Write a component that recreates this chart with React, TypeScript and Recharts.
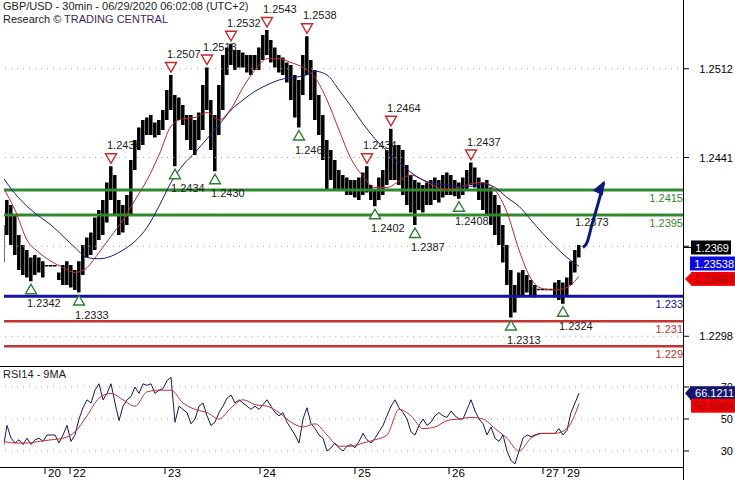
import React from "react";
import { Bar, ComposedChart, Line, ReferenceDot, ReferenceLine, XAxis, YAxis } from "recharts";

// one point per hour (two 30min bars), oldest first
const barHigh = [
    1.2387, 1.2407, 1.2403, 1.2395, 1.2379, 1.2371, 1.2367, 1.2361, 1.2363, 1.2361,
    1.2358, 1.2355, 1.2355, 1.2355, 1.2349, 1.2355, 1.2358, 1.2355, 1.2351, 1.2358,
    1.2371, 1.2377, 1.2381, 1.2393, 1.2399, 1.2407, 1.2421, 1.2434, 1.2427, 1.2407,
    1.2403, 1.2411, 1.2439, 1.2455, 1.2465, 1.2471, 1.2473, 1.2475, 1.2469, 1.2471,
    1.2479, 1.2495, 1.2507, 1.2491, 1.2489, 1.2483, 1.2475, 1.2475, 1.2471, 1.2477,
    1.2499, 1.2513, 1.2487, 1.2475, 1.2499, 1.2523, 1.2529, 1.2532, 1.2527, 1.2527,
    1.2525, 1.2523, 1.2523, 1.2523, 1.2529, 1.2539, 1.2543, 1.2535, 1.2529, 1.2523,
    1.2521, 1.2517, 1.2515, 1.2507, 1.2503, 1.2523, 1.2538, 1.2519, 1.2511, 1.2491,
    1.2475, 1.2455, 1.2447, 1.2439, 1.2431, 1.2427, 1.2425, 1.2423, 1.2423, 1.2425,
    1.2429, 1.2434, 1.2419, 1.2415, 1.2425, 1.2431, 1.2447, 1.2464, 1.2451, 1.2451,
    1.2447, 1.2435, 1.2427, 1.2423, 1.2421, 1.2419, 1.2421, 1.2423, 1.2425, 1.2423,
    1.2427, 1.2429, 1.2427, 1.2423, 1.2421, 1.2425, 1.2431, 1.2437, 1.2433, 1.2425,
    1.2421, 1.2423, 1.2417, 1.2411, 1.2403, 1.2387, 1.2371, 1.2351, 1.2339, 1.2349,
    1.2351, 1.2347, 1.2343, 1.2339, 1.2336, 1.2336, 1.2336, 1.2336, 1.2341, 1.2343,
    1.2341, 1.2345, 1.2358, 1.2367, 1.2371,
];
const barLow = [
    1.2357, 1.2379, 1.2371, 1.2363, 1.2351, 1.2347, 1.2345, 1.2342, 1.2347, 1.2349,
    1.2345, 1.2354, 1.2354, 1.2354, 1.2343, 1.2339, 1.2339, 1.2337, 1.2335, 1.2333,
    1.2347, 1.2361, 1.2363, 1.2367, 1.2375, 1.2379, 1.2389, 1.2407, 1.2395, 1.2379,
    1.2381, 1.2387, 1.2395, 1.2431, 1.2447, 1.2451, 1.2459, 1.2459, 1.2457, 1.2459,
    1.2463, 1.2471, 1.2479, 1.2434, 1.2471, 1.2467, 1.2455, 1.2447, 1.2443, 1.2455,
    1.2463, 1.2479, 1.2447, 1.243, 1.2459, 1.2479, 1.2507, 1.2515, 1.2511, 1.2513,
    1.2513, 1.2509, 1.2507, 1.2511, 1.2511, 1.2519, 1.2523, 1.2517, 1.2513, 1.2509,
    1.2507, 1.2501, 1.2487, 1.2473, 1.2465, 1.2491, 1.2507, 1.2487, 1.2471, 1.2459,
    1.2439, 1.2415, 1.2423, 1.2415, 1.2415, 1.2415, 1.2411, 1.2411, 1.2409, 1.2407,
    1.2411, 1.2413, 1.2407, 1.2402, 1.2407, 1.2411, 1.2419, 1.2423, 1.2423, 1.2419,
    1.2411, 1.2403, 1.2397, 1.2387, 1.2399, 1.2397, 1.2403, 1.2403, 1.2407, 1.2405,
    1.2409, 1.2411, 1.2411, 1.241, 1.2408, 1.2411, 1.2415, 1.2419, 1.2417, 1.2407,
    1.2399, 1.2395, 1.2387, 1.2379, 1.2371, 1.2357, 1.2339, 1.2313, 1.2317, 1.2329,
    1.2331, 1.2333, 1.2331, 1.2329, 1.2335, 1.2335, 1.2335, 1.2335, 1.2329, 1.2327,
    1.2324, 1.2331, 1.2339, 1.2349, 1.2361,
];
// moving averages, read every 3rd point
const maRed = [
    1.2417, 1.2399, 1.2375, 1.2365, 1.2358, 1.2353, 1.2349, 1.2353, 1.2365, 1.2378,
    1.2391, 1.2407, 1.2423, 1.2443, 1.2466, 1.2472, 1.2473, 1.2477, 1.2471, 1.248,
    1.2497, 1.2511, 1.252, 1.252, 1.2517, 1.2513, 1.2505, 1.2487, 1.2463, 1.244,
    1.2426, 1.2417, 1.2417, 1.2422, 1.2427, 1.2423, 1.2418, 1.2415, 1.2417, 1.242,
    1.2421, 1.2415, 1.2397, 1.2367, 1.2344, 1.2336, 1.2335, 1.2337, 1.2346,
];
const maBlue = [
    1.2425, 1.2412, 1.2402, 1.2394, 1.2387, 1.2378, 1.2369, 1.2361, 1.236, 1.2362,
    1.2367, 1.2374, 1.2385, 1.2402, 1.2421, 1.2435, 1.2445, 1.2456, 1.2467, 1.2479,
    1.2487, 1.2494, 1.2499, 1.2503, 1.2505, 1.2506, 1.251, 1.2507, 1.2495, 1.2482,
    1.2468, 1.2456, 1.2446, 1.2437, 1.2429, 1.2423, 1.242, 1.2419, 1.2418, 1.2418,
    1.242, 1.2417, 1.2409, 1.2402, 1.2391, 1.238, 1.237, 1.2361, 1.2354,
];
const rsi14 = [
    31, 46, 38, 35, 37, 34, 38, 34, 37, 38,
    36, 40, 40, 40, 35, 40, 46, 36, 40, 50,
    57, 62, 60, 68, 72, 62, 66, 72, 60, 49,
    58, 62, 64, 70, 66, 72, 71, 72, 66, 68,
    69, 74, 76, 48, 58, 56, 54, 47, 50, 58,
    60, 52, 46, 48, 54, 58, 63, 65, 60, 62,
    60, 58, 56, 58, 56, 59, 62, 58, 54, 52,
    54, 48, 44, 40, 35, 50, 57, 47, 44, 40,
    38, 30, 32, 35, 32, 30, 33, 34, 32, 36,
    41, 37, 35, 38, 42, 46, 52, 58, 62, 57,
    54, 50, 42, 40, 46, 50, 46, 48, 52, 54,
    52, 51, 55, 52, 50, 50, 56, 62, 55, 50,
    47, 40, 45, 38, 36, 40, 30, 24, 22, 30,
    38, 40, 39, 40, 41, 41, 41, 41, 41, 44,
    40, 43, 54, 60, 66.12,
];
const rsiMa = [
    36, 35, 35, 36, 37, 38, 42, 52, 63, 66,
    62, 58, 67, 68, 68, 60, 56, 54, 50, 57,
    62, 59, 58, 54, 48, 45, 47, 40, 33, 33,
    35, 37, 40, 56, 52, 44, 45, 49, 50, 51,
    50, 44, 38, 30, 38, 41, 41, 44, 59.56,
];

const dayTickPos = [10.5, 16.75, 40.5, 64.25, 88, 111.5, 135, 140.25];
const dayLabels = ["20", "22", "23", "24", "25", "26", "27", "29"];

const priceTicks = [1.2298, 1.237, 1.2441, 1.2512];
const levelPrices = [1.2415, 1.2395, 1.233, 1.231, 1.229];
const levelNames = ["1.2415", "1.2395", "1.233", "1.231", "1.229"];
const levelKinds = ["res", "res", "piv", "sup", "sup"];

// turning points marked on the chart
const pivotIdx = [27, 42, 51, 57, 66, 76, 91, 97, 117, 7, 19, 43, 53, 74, 93, 103, 114, 127, 140];
const pivotPrice = [
    1.2434, 1.2507, 1.2513, 1.2532, 1.2543, 1.2538, 1.2434, 1.2464, 1.2437,
    1.2342, 1.2333, 1.2434, 1.243, 1.2465, 1.2402, 1.2387, 1.2408, 1.2313, 1.2324,
];
const pivotIsHigh = [true, true, true, true, true, true, true, true, true,
    false, false, false, false, false, false, false, false, false, false];

const targetIdx = 144;
const targetPrice = 1.2373;
const arrowIdx = [145, 146, 147.2, 148.4, 150.2];
const arrowPrice = [1.2369, 1.2373, 1.2387, 1.24, 1.2421];

const lastClose = 1.2369;
const lastBlue = 1.23538;
const lastRed = 1.23463;
const lastRsi = 66.1211;
const lastRsiMa = 59.5604;

const FONT = '"Liberation Sans", Arial, sans-serif';
const X_DOMAIN: [number, number] = [0.25, 170.25];
const GREEN = "#2f8a2f";
const BLUE = "#1414a0";
const RED = "#c43232";
const levelColor: Record<string, string> = { res: GREEN, piv: BLUE, sup: RED };

const priceData = barHigh.map((h, i) => ({
    i,
    range: [barLow[i], h],
    red: i % 3 === 0 ? maRed[i / 3] : null,
    blue: i % 3 === 0 ? maBlue[i / 3] : null,
}));
const rsiData = rsi14.map((v, i) => ({ i, rsi: v, ma: i % 3 === 0 ? rsiMa[i / 3] : null }));
const arrowData = arrowIdx.map((i, k) => ({ i, p: arrowPrice[k] }));

function Pivot({ cx, cy, high, text, noMark }: any) {
    const ty = high ? cy - 8 : cy + 8;
    const pts = high
        ? `${cx - 5.5},${ty - 4.5} ${cx + 5.5},${ty - 4.5} ${cx},${ty + 5}`
        : `${cx},${ty - 5} ${cx + 5.5},${ty + 4.5} ${cx - 5.5},${ty + 4.5}`;
    return (
        <g>
            {!noMark && <polygon points={pts} fill="#fff" stroke={high ? "#c62828" : "#2e7d32"} strokeWidth={1.4} />}
            <text x={cx - 4} y={high ? cy - 17 : cy + 26} fontSize={11} fontFamily={FONT} fill="#1a1a1a">
                {text}
            </text>
        </g>
    );
}

// hi-lo bar drawn a touch narrower than the step so some texture stays visible
function HiLoBar(props: any) {
    const { x, y, width, height } = props;
    const cx = x + width / 2;
    const h = Math.max(Math.abs(height), 1.5);
    const top = height < 0 ? y + height : y;
    return <rect x={cx - 1.75} y={top} width={3.5} height={h} fill="#000" />;
}

function ValueBox({ x, y, bg, fg, text, arrow, w }: any) {
    const left = x + 51 - w;
    return (
        <g>
            {arrow && <polygon points={`${x + 1},${y} ${left + 1},${y - 7} ${left + 1},${y + 7}`} fill={bg} />}
            <rect x={left} y={y - 7} width={w} height={14} fill={bg} />
            <text x={x + 50} y={y + 4} textAnchor="end" fontSize={11} fontFamily={FONT} fill={fg}>{text}</text>
        </g>
    );
}

function PriceTick(props: any) {
    const { x, y, payload } = props;
    const v = payload.value;
    if (v === lastClose)
        return (
            <g>
                <line x1={x} x2={x + 7} y1={y} y2={y} stroke="#000" />
                <rect x={x + 7} y={y - 7} width={40} height={14} fill="#000" />
                <text x={x + 45} y={y + 4} textAnchor="end" fontSize={11} fontFamily={FONT} fill="#fff">{v.toFixed(4)}</text>
            </g>
        );
    if (v === lastBlue) return <ValueBox x={x} y={y - 3} bg="#0c0ce0" fg="#fff" text={v.toFixed(5)} w={45} />;
    if (v === lastRed) return <ValueBox x={x} y={y + 3} bg="#f00000" fg="#9a0000" text={v.toFixed(5)} w={44} arrow />;
    // the grid tick sitting under the last-price box keeps its mark only
    const hidden = Math.abs(v - lastClose) < 0.0003;
    return (
        <g>
            <line x1={x} x2={x + 5} y1={y} y2={y} stroke="#000" />
            {!hidden && (
                <text x={x + 49} y={y + 4} textAnchor="end" fontSize={11} fontFamily={FONT} fill="#000">{v.toFixed(4)}</text>
            )}
        </g>
    );
}

function RsiTick(props: any) {
    const { x, y, payload } = props;
    const v = payload.value;
    if (v === lastRsi) return <ValueBox x={x} y={y} bg="#15156e" fg="#fff" text={v.toFixed(4)} w={45} arrow />;
    if (v === lastRsiMa) return <ValueBox x={x} y={y + 2} bg="#f00000" fg="#9a0000" text={v.toFixed(4)} w={44} />;
    return (
        <g>
            <line x1={x} x2={x + 5} y1={y} y2={y} stroke="#000" />
            <text x={x + 49} y={y + 4} textAnchor="end" fontSize={11} fontFamily={FONT} fill="#000">{v}</text>
        </g>
    );
}

function DayTick(props: any) {
    const { x, y, payload } = props;
    const k = dayTickPos.indexOf(payload.value);
    return (
        <g>
            <line x1={x} x2={x} y1={y} y2={y + 7} stroke="#000" />
            <text x={x + 3} y={y + 10} fontSize={11.5} fontFamily={FONT} fill="#000">{dayLabels[k]}</text>
        </g>
    );
}

function ArrowHead(props: any) {
    const { cx, cy, index } = props;
    if (index !== arrowData.length - 1) return <g key={index} />;
    return (
        <polygon
            key={index}
            points={`${cx + 1},${cy - 2} ${cx - 11},${cy + 8} ${cx - 1},${cy + 13}`}
            fill="#0d1a78"
        />
    );
}

export default function App() {
    return (
        <div style={{ position: "absolute", left: 0, top: 0, width: 735, height: 480, background: "#fff", fontFamily: FONT, overflow: "hidden" }}>
            <ComposedChart
                width={735}
                height={366}
                data={priceData}
                margin={{ top: 0, right: 0, bottom: 0, left: 4 }}
                barGap={0}
                barCategoryGap={0}
            >
                <XAxis type="number" dataKey="i" domain={X_DOMAIN} allowDataOverflow hide />
                <YAxis
                    type="number"
                    orientation="right"
                    width={51}
                    domain={[1.22742, 1.2567]}
                    allowDataOverflow
                    ticks={[...priceTicks, lastClose, lastBlue, lastRed]}
                    interval={0}
                    tickSize={0}
                    tickMargin={0}
                    tickLine={false}
                    axisLine={false}
                    tick={<PriceTick />}
                />
                {priceTicks.map((p) => (
                    <ReferenceLine key={p} y={p} stroke="#a8a8a8" strokeDasharray="1 5" />
                ))}
                {levelPrices.map((p, k) => (
                    <ReferenceLine key={"l" + p} y={p} stroke={levelColor[levelKinds[k]]} strokeWidth={levelKinds[k] === "sup" ? 2.5 : 3} />
                ))}
                {levelPrices.map((p, k) => (
                    <ReferenceDot
                        key={"t" + p}
                        x={X_DOMAIN[1]}
                        y={p}
                        r={0}
                        shape={(s: any) => (
                            <text x={s.cx - 1} y={s.cy + 12} textAnchor="end" fontSize={11} fontFamily={FONT} fill={levelColor[levelKinds[k]]}>
                                {levelNames[k]}
                            </text>
                        )}
                    />
                ))}
                {pivotIdx.map((x, k) => (
                    <ReferenceDot
                        key={"p" + k}
                        x={x}
                        y={pivotPrice[k]}
                        r={0}
                        shape={(s: any) => <Pivot cx={s.cx} cy={s.cy} high={pivotIsHigh[k]} text={pivotPrice[k].toFixed(4)} />}
                    />
                ))}
                <ReferenceDot
                    x={targetIdx}
                    y={targetPrice}
                    r={0}
                    shape={(s: any) => <Pivot cx={s.cx} cy={s.cy} high text={targetPrice.toFixed(4)} noMark />}
                />
                <Bar dataKey="range" fill="#000" barSize={4} shape={<HiLoBar />} isAnimationActive={false} />
                <Line type="monotone" dataKey="red" stroke="#b82c2c" strokeWidth={1} dot={false} connectNulls isAnimationActive={false} />
                <Line type="monotone" dataKey="blue" stroke="#1c1c8a" strokeWidth={1} dot={false} connectNulls isAnimationActive={false} />
                <Line data={arrowData} type="monotone" dataKey="p" stroke="#0d1a78" strokeWidth={3} dot={<ArrowHead />} isAnimationActive={false} />
            </ComposedChart>

            <ComposedChart
                width={735}
                height={114}
                data={rsiData}
                margin={{ top: 0, right: 0, bottom: 0, left: 4 }}
                style={{ position: "absolute", left: 0, top: 366 }}
            >
                <XAxis
                    type="number"
                    dataKey="i"
                    domain={X_DOMAIN}
                    allowDataOverflow
                    ticks={dayTickPos}
                    interval={0}
                    height={13}
                    tickSize={0}
                    tickMargin={0}
                    tickLine={false}
                    axisLine={false}
                    tick={<DayTick />}
                />
                <YAxis
                    type="number"
                    orientation="right"
                    width={51}
                    domain={[20, 83.125]}
                    allowDataOverflow
                    ticks={[30, 50, 70, lastRsi, lastRsiMa]}
                    interval={0}
                    tickSize={0}
                    tickMargin={0}
                    tickLine={false}
                    axisLine={false}
                    tick={<RsiTick />}
                />
                {[30, 50, 70].map((v) => (
                    <ReferenceLine key={v} y={v} stroke="#a8a8a8" strokeDasharray="1 5" />
                ))}
                <Line type="linear" dataKey="rsi" stroke="#16165c" strokeWidth={1} dot={false} isAnimationActive={false} />
                <Line type="monotone" dataKey="ma" stroke="#c43232" strokeWidth={1} dot={false} connectNulls isAnimationActive={false} />
            </ComposedChart>

            <div style={{ position: "absolute", left: 0, top: 366, width: 684, height: 1, background: "#000" }} />
            <div style={{ position: "absolute", left: 0, top: 467, width: 684, height: 1, background: "#000" }} />
            <div style={{ position: "absolute", left: 683, top: 0, width: 1, height: 480, background: "#000" }} />

            <div style={{ position: "absolute", left: 3, top: 0, fontSize: 11, lineHeight: "13px", color: "#222", whiteSpace: "nowrap" }}>
                GBP/USD - 30min - 06/29/2020 06:02:08 (UTC+2)
                <br />
                Research © <span style={{ color: "#4a1f5e" }}>TRADING CENTRAL</span>
            </div>
            <div style={{ position: "absolute", left: 3, top: 368, fontSize: 11, lineHeight: "13px", color: "#222" }}>
                RSI14 - 9MA
            </div>
        </div>
    );
}
